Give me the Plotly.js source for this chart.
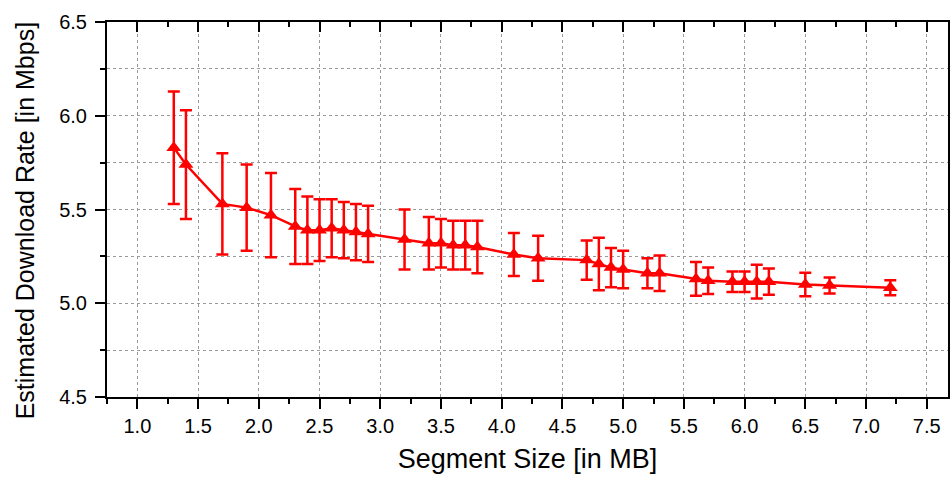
<!DOCTYPE html>
<html>
<head>
<meta charset="utf-8">
<script src="https://cdn.plot.ly/plotly-3.0.1.min.js"></script>
<style>html,body{margin:0;padding:0;background:#fff;}#chart{width:950px;height:487px;}</style>
</head>
<body>
<div id="chart"></div>
<script>
// Segment size [MB]
const segmentSize = [1.3,1.4,1.7,1.9,2.1,2.3,2.4,2.5,2.6,2.7,2.8,2.9,3.2,3.4,3.5,3.6,3.7,3.8,4.1,4.3,4.7,4.8,4.9,5.0,5.2,5.3,5.6,5.7,5.9,6.0,6.1,6.2,6.5,6.7,7.2];
// Estimated download rate [Mbps]
const downloadRate = [5.83,5.74,5.53,5.51,5.47,5.41,5.39,5.39,5.40,5.39,5.38,5.37,5.34,5.32,5.32,5.31,5.31,5.30,5.26,5.24,5.23,5.21,5.19,5.18,5.16,5.16,5.13,5.12,5.115,5.115,5.115,5.115,5.10,5.095,5.083];
// Error (+/-) [Mbps]
const rateError = [0.30,0.29,0.27,0.23,0.225,0.20,0.18,0.165,0.155,0.15,0.15,0.15,0.16,0.14,0.13,0.13,0.13,0.14,0.115,0.12,0.105,0.14,0.105,0.10,0.08,0.095,0.09,0.07,0.055,0.055,0.09,0.07,0.063,0.043,0.04];

const xTickVals = [1.0,1.5,2.0,2.5,3.0,3.5,4.0,4.5,5.0,5.5,6.0,6.5,7.0,7.5];
const xTickText = ['1.0','1.5','2.0','2.5','3.0','3.5','4.0','4.5','5.0','5.5','6.0','6.5','7.0','7.5'];
const yTickVals = [4.5,5.0,5.5,6.0,6.5];
const yTickText = ['4.5','5.0','5.5','6.0','6.5'];

const xTitle = 'Segment Size [in MB]';
const yTitle = 'Estimated Download Rate [in Mbps]';

const RED = '#ff0000';
const FONT = 'Arial, "Liberation Sans", sans-serif';
const xRange = [0.75, 7.675];
const yRange = [4.5, 6.5];

const traces = [
  {
    x: segmentSize,
    y: downloadRate,
    type: 'scatter',
    mode: 'lines+markers',
    line: {color: RED, width: 2.5},
    marker: {symbol: 'triangle-up', size: 13, color: RED},
    error_y: {type: 'data', array: rateError, visible: true, color: RED, thickness: 2.5, width: 6},
    showlegend: false,
    cliponaxis: false
  },
  { x: [], y: [], xaxis: 'x2', yaxis: 'y', type: 'scatter', showlegend: false, hoverinfo: 'skip' }
];

const layout = {
  width: 950,
  height: 487,
  margin: {l: 107, r: 2, t: 22, b: 90, pad: 0},
  paper_bgcolor: '#ffffff',
  plot_bgcolor: '#ffffff',
  font: {family: FONT, color: '#000'},
  showlegend: false,
  xaxis: {
    range: xRange,
    tickmode: 'array', tickvals: xTickVals, ticktext: xTickText,
    ticks: 'outside', ticklen: 10, tickwidth: 2, tickcolor: '#000',
    tickfont: {size: 20, family: FONT, color: '#000'},
    showline: true, linecolor: '#000', linewidth: 2, mirror: false,
    showgrid: true, gridcolor: '#9a9a9a', gridwidth: 1, griddash: 'dot',
    zeroline: false,
    minor: {dtick: 0.25, tick0: 0.75, ticks: 'outside', ticklen: 5, tickwidth: 2, tickcolor: '#000', showgrid: false},
    title: {text: xTitle, font: {size: 27, family: FONT, color: '#000'}, standoff: 13}
  },
  xaxis2: {
    overlaying: 'x', side: 'top', anchor: 'y',
    range: xRange,
    tickmode: 'array', tickvals: xTickVals,
    showticklabels: false,
    ticks: 'inside', ticklen: 10, tickwidth: 2, tickcolor: '#000',
    showline: true, linecolor: '#000', linewidth: 2,
    showgrid: false, zeroline: false,
    minor: {dtick: 0.25, tick0: 0.75, ticks: 'inside', ticklen: 5, tickwidth: 2, tickcolor: '#000', showgrid: false}
  },
  yaxis: {
    range: yRange,
    tickmode: 'array', tickvals: yTickVals, ticktext: yTickText,
    ticks: 'outside', ticklen: 10, tickwidth: 2, tickcolor: '#000',
    tickfont: {size: 20, family: FONT, color: '#000'},
    ticklabelstandoff: 4,
    showline: true, linecolor: '#000', linewidth: 2, mirror: 'ticks',
    showgrid: true, gridcolor: '#9a9a9a', gridwidth: 1, griddash: 'dot',
    zeroline: false,
    minor: {dtick: 0.25, tick0: 4.5, ticks: 'outside', ticklen: 5, tickwidth: 2, tickcolor: '#000', showgrid: true, gridcolor: '#9a9a9a', gridwidth: 1, griddash: 'dot'}
  },
  annotations: [
    {
      text: yTitle, textangle: -90,
      xref: 'paper', yref: 'paper',
      x: -0.098, y: 0.47,
      xanchor: 'center', yanchor: 'middle',
      showarrow: false, borderpad: 0,
      font: {size: 25, family: FONT, color: '#000'}
    }
  ]
};

Plotly.newPlot('chart', traces, layout, {displayModeBar: false, staticPlot: true});
</script>
</body>
</html>
